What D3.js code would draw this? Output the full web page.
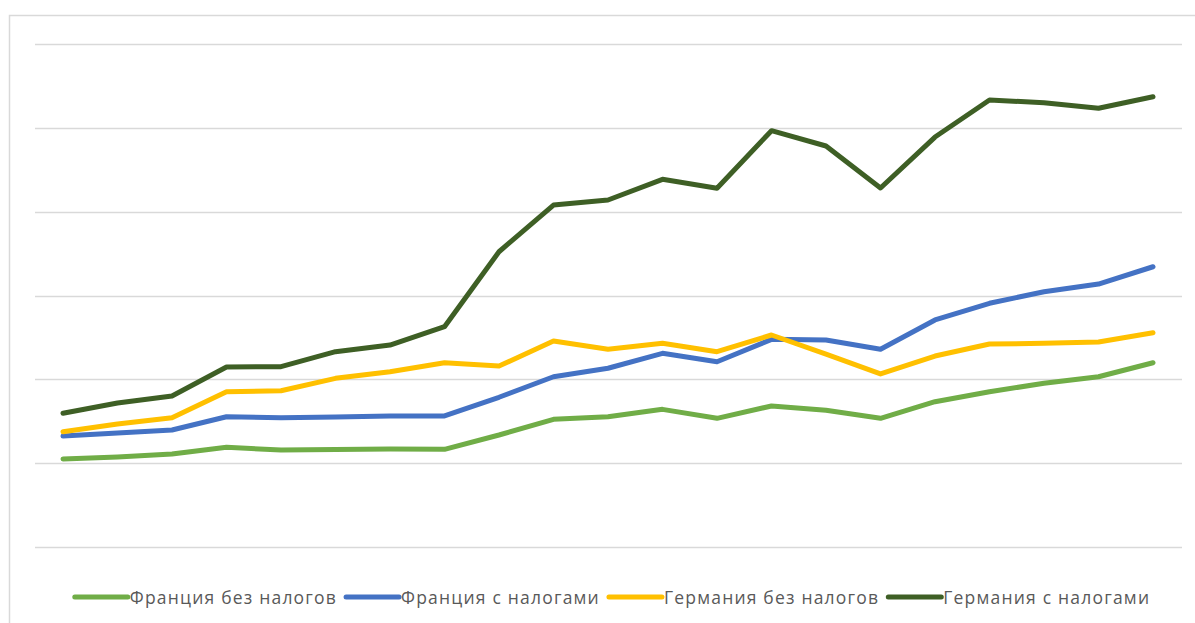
<!DOCTYPE html>
<html><head><meta charset="utf-8">
<script src="https://cdn.jsdelivr.net/npm/d3@7"></script>
<style>html,body{margin:0;padding:0;background:#fff;}svg{display:block;}</style>
</head><body>
<svg id="chart" width="1195" height="623"></svg>
<script>
const periods = d3.range(1, 22).map(String);
const seriesNames = ["Франция без налогов", "Франция с налогами", "Германия без налогов", "Германия с налогами"];
const seriesColors = ["#70AD47", "#4472C4", "#FFC000", "#3E5F25"];
const franceNoTax = [10.5,10.74,11.09,11.89,11.57,11.63,11.69,11.65,13.36,15.23,15.54,16.42,15.35,16.82,16.31,15.35,17.33,18.52,19.53,20.31,21.98];
const franceTax = [13.24,13.6,13.96,15.54,15.42,15.51,15.63,15.63,17.86,20.31,21.32,23.1,22.1,24.77,24.69,23.58,27.08,29.07,30.45,31.37,33.43];
const germanyNoTax = [13.75,14.67,15.42,18.52,18.64,20.12,20.91,21.98,21.59,24.57,23.58,24.3,23.3,25.29,23.02,20.64,22.78,24.21,24.3,24.45,25.56];
const germanyTax = [15.95,17.18,18.01,21.47,21.51,23.3,24.09,26.28,35.22,40.79,41.39,43.86,42.79,49.66,47.83,42.82,48.9,53.32,53.0,52.33,53.71];
const yTicks = [0,10,20,30,40,50,60];

const allSeries = [franceNoTax, franceTax, germanyNoTax, germanyTax];
const svg = d3.select("#chart");

// chart border
svg.append("rect").attr("x",9.5).attr("y",15.5).attr("width",1200).attr("height",700)
  .attr("fill","none").attr("stroke","#d9d9d9").attr("stroke-width",1.5);

const x = d3.scalePoint().domain(periods).range([63,1153]);
const y = d3.scaleLinear().domain([0,60]).range([547,44]);

// gridlines
svg.append("g").selectAll("line").data(yTicks).join("line")
  .attr("x1",35).attr("x2",1182)
  .attr("y1",d=>Math.round(y(d))+0.5).attr("y2",d=>Math.round(y(d))+0.5)
  .attr("stroke","#d9d9d9").attr("stroke-width",1.5);

const line = d3.line().x((d,i)=>x(periods[i])).y(d=>y(d));
svg.append("g").selectAll("path").data(allSeries).join("path")
  .attr("d",d=>line(d)).attr("fill","none")
  .attr("stroke",(d,i)=>seriesColors[i]).attr("stroke-width",5)
  .attr("stroke-linejoin","round").attr("stroke-linecap","round");

// legend
const lg = svg.append("g");
const symW = 53, gapT = 2, gapItem = 9, ly = 597;
const items = seriesNames.map((name,i)=>{
  const g = lg.append("g");
  g.append("line").attr("x1",0).attr("x2",symW).attr("y1",ly).attr("y2",ly)
    .attr("stroke",seriesColors[i]).attr("stroke-width",5).attr("stroke-linecap","round");
  const t = g.append("text").attr("x",symW+gapT).attr("y",ly).attr("dominant-baseline","central")
    .attr("font-family","'Open Sans', sans-serif").attr("font-size",17.5).attr("fill","#595959")
    .attr("letter-spacing",1.2).text(name);
  return {g, w: symW+gapT+t.node().getComputedTextLength()};
});
const total = d3.sum(items,d=>d.w)+gapItem*(items.length-1);
let cx = 612.5 - total/2;
items.forEach(it=>{ it.g.attr("transform",`translate(${cx},0)`); cx += it.w+gapItem; });
</script>
</body></html>
